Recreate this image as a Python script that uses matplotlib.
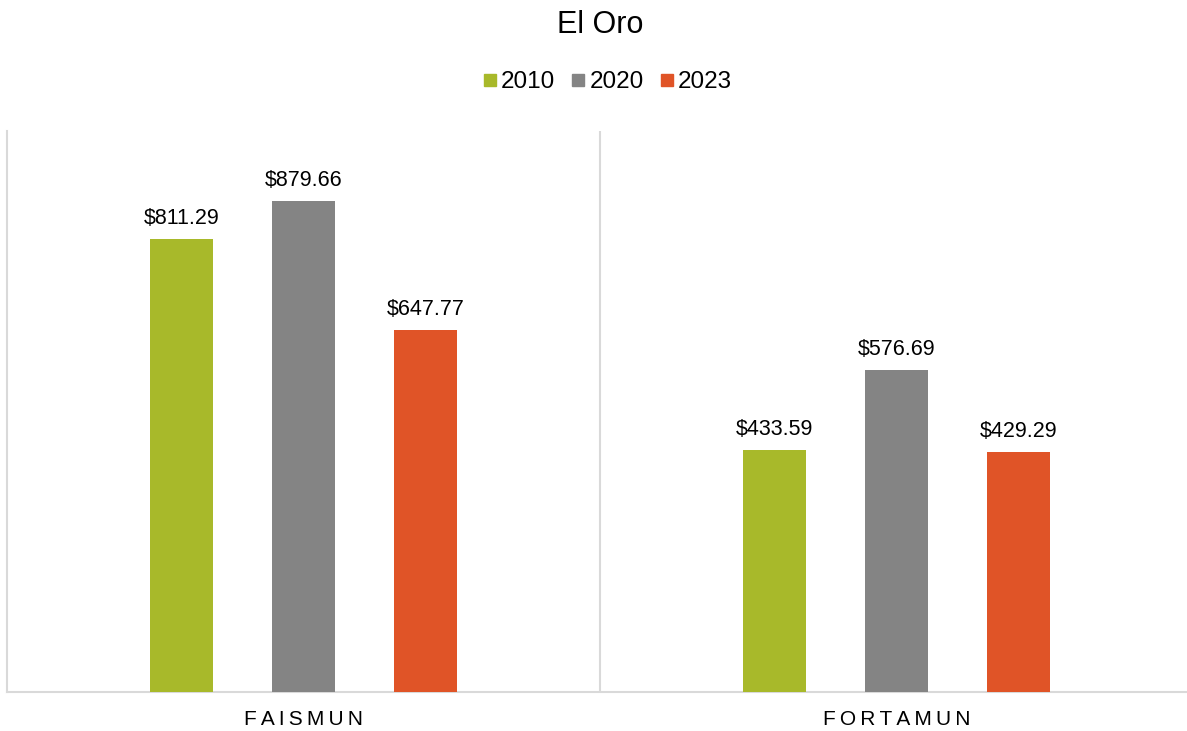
import numpy as np
import matplotlib.pyplot as plt
from matplotlib.lines import Line2D

plt.rcParams['font.family'] = ['Liberation Sans', 'DejaVu Sans']

categories = ['FAISMUN', 'FORTAMUN']
years = ['2010', '2020', '2023']
values = {
    '2010': [811.29, 433.59],
    '2020': [879.66, 576.69],
    '2023': [647.77, 429.29],
}
colors = ['#A8B92A', '#848484', '#E05427']

W, H = 1187, 731
fig = plt.figure(figsize=(W / 100, H / 100), dpi=100)
ax = fig.add_axes([7 / W, 39 / H, 1186 / W, 561 / H])

x = np.arange(len(categories))
offsets = [-0.206, 0, 0.206]
bar_w = 0.107
for yr, off, c in zip(years, offsets, colors):
    bars = ax.bar(x + off, values[yr], width=bar_w, color=c, zorder=3)
    for b, v in zip(bars, values[yr]):
        ax.text(b.get_x() + b.get_width() / 2, v + 18, f"${v:,.2f}",
                ha='center', va='bottom', fontsize=15.5, color='#000000')

ax.set_xlim(-0.5, 1.5)
ax.set_ylim(0, 1005)
ax.axvline(0.5, color='#D9D9D9', lw=1.5, zorder=1)

for s in ['top', 'right']:
    ax.spines[s].set_visible(False)
for s in ['left', 'bottom']:
    ax.spines[s].set_color('#D9D9D9')
    ax.spines[s].set_linewidth(1.5)

ax.set_yticks([])
ax.set_xticks(x)
ax.set_xticklabels(['\u2009'.join(c) for c in categories], fontsize=15, color='#000000')
ax.tick_params(axis='x', length=0, pad=13)

fig.text(600 / W, 1 - 25 / H, 'El Oro', ha='center', va='center', fontsize=22)

handles = [Line2D([0], [0], marker='s', linestyle='none', markersize=9,
                  markerfacecolor=c, markeredgecolor=c) for c in colors]
fig.legend(handles, years, loc='center', bbox_to_anchor=(606 / W, 1 - 82 / H),
           ncol=3, frameon=False, fontsize=17.5, handletextpad=0.05,
           columnspacing=0.55, handlelength=0.8)

fig.savefig('out.png', dpi=100)
